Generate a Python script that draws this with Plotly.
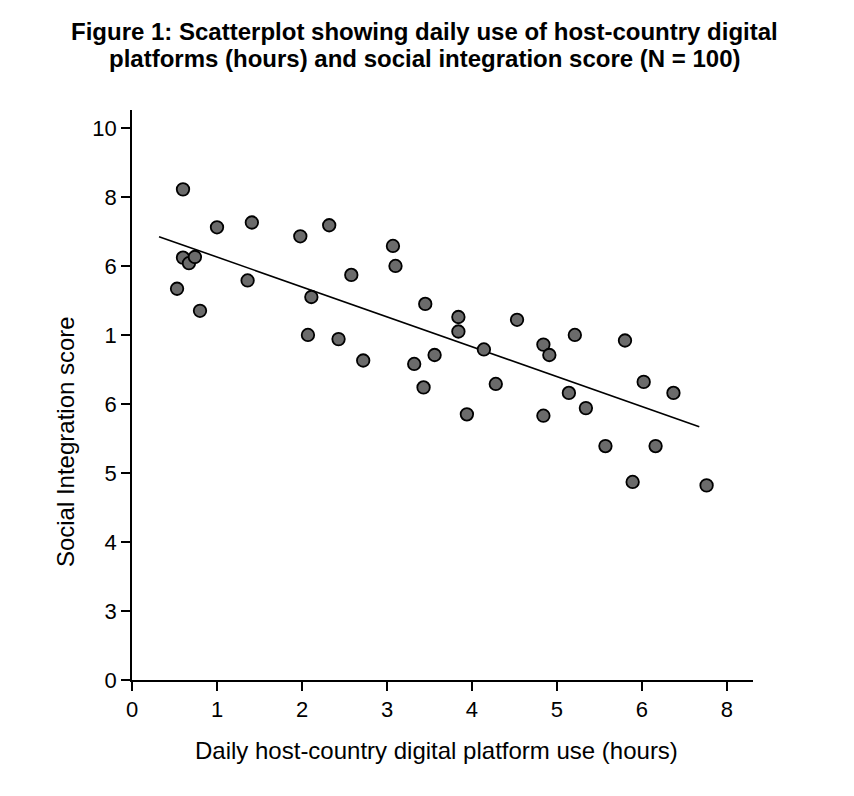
import plotly.graph_objects as go

FONT = 'Liberation Sans, Arial, sans-serif'

# values in axis units (tick positions 0..7 on x, 0..8 on y)
hours = [0.60, 0.53, 0.60, 0.67, 0.74, 0.80, 1.00, 1.41, 1.36, 1.98,
         2.32, 2.11, 2.07, 2.43, 2.58, 2.72, 3.07, 3.10, 3.32, 3.43,
         3.45, 3.56, 3.84, 3.84, 3.94, 4.14, 4.28, 4.53, 4.84, 4.91,
         4.84, 5.14, 5.21, 5.34, 5.57, 5.80, 5.89, 6.02, 6.16, 6.37, 6.76]
scores = [7.11, 5.67, 6.12, 6.04, 6.13, 5.35, 6.56, 6.63, 5.79, 6.43,
          6.59, 5.55, 5.00, 4.94, 5.87, 4.63, 6.29, 6.00, 4.58, 4.24,
          5.45, 4.71, 5.26, 5.05, 3.85, 4.79, 4.29, 5.22, 4.86, 4.71,
          3.83, 4.16, 5.00, 3.94, 3.39, 4.92, 2.87, 4.32, 3.39, 4.16, 2.82]

fit_x = [0.318, 6.674]
fit_y = [6.425, 3.671]

x_tickvals = [0, 1, 2, 3, 4, 5, 6, 7]
x_ticktext = ['0', '1', '2', '3', '4', '5', '6', '8']
y_tickvals = [0, 1, 2, 3, 4, 5, 6, 7, 8]
y_ticktext = ['0', '3', '4', '5', '6', '1', '6', '8', '10']

title_lines = ['Figure 1: Scatterplot showing daily use of host-country digital',
               'platforms (hours) and social integration score (N = 100)']

fig = go.Figure()
fig.add_trace(go.Scatter(x=fit_x, y=fit_y, mode='lines',
                         line=dict(color='black', width=1.6), showlegend=False))
fig.add_trace(go.Scatter(x=hours, y=scores, mode='markers', showlegend=False,
                         marker=dict(size=12.5, color='#6b6b6b',
                                     line=dict(color='black', width=1.8))))


def note(text, x, y, size, bold=False, angle=0):
    return dict(text=f'<b>{text}</b>' if bold else text, textangle=angle,
                xref='paper', yref='paper', x=x, y=y,
                xanchor='center', yanchor='middle', showarrow=False,
                font=dict(size=size, family=FONT, color='black'))


fig.update_layout(
    width=854, height=796,
    margin=dict(l=124, r=109, t=102, b=124),
    paper_bgcolor='white', plot_bgcolor='white',
    font=dict(family=FONT, color='black', size=22),
    annotations=[
        note(title_lines[0], 0.471, 1.137, 24, bold=True),
        note(title_lines[1], 0.471, 1.091, 24, bold=True),
        note('Daily host-country digital platform use (hours)', 0.491, -0.123, 24),
        note('Social Integration score', -0.108, 0.419, 24, angle=-90),
    ],
)
fig.update_xaxes(range=[0, 7.306], tickvals=x_tickvals, ticktext=x_ticktext,
                 showline=True, linecolor='black', linewidth=1.5,
                 ticks='outside', ticklen=9, tickwidth=1.5, tickcolor='black',
                 showgrid=False, zeroline=False, tickfont=dict(size=22))
fig.update_yaxes(range=[0, 8.26], tickvals=y_tickvals, ticktext=y_ticktext,
                 showline=True, linecolor='black', linewidth=1.5,
                 ticks='outside', ticklen=9, tickwidth=1.5, tickcolor='black',
                 showgrid=False, zeroline=False, tickfont=dict(size=22))

fig.write_html("out.html")
